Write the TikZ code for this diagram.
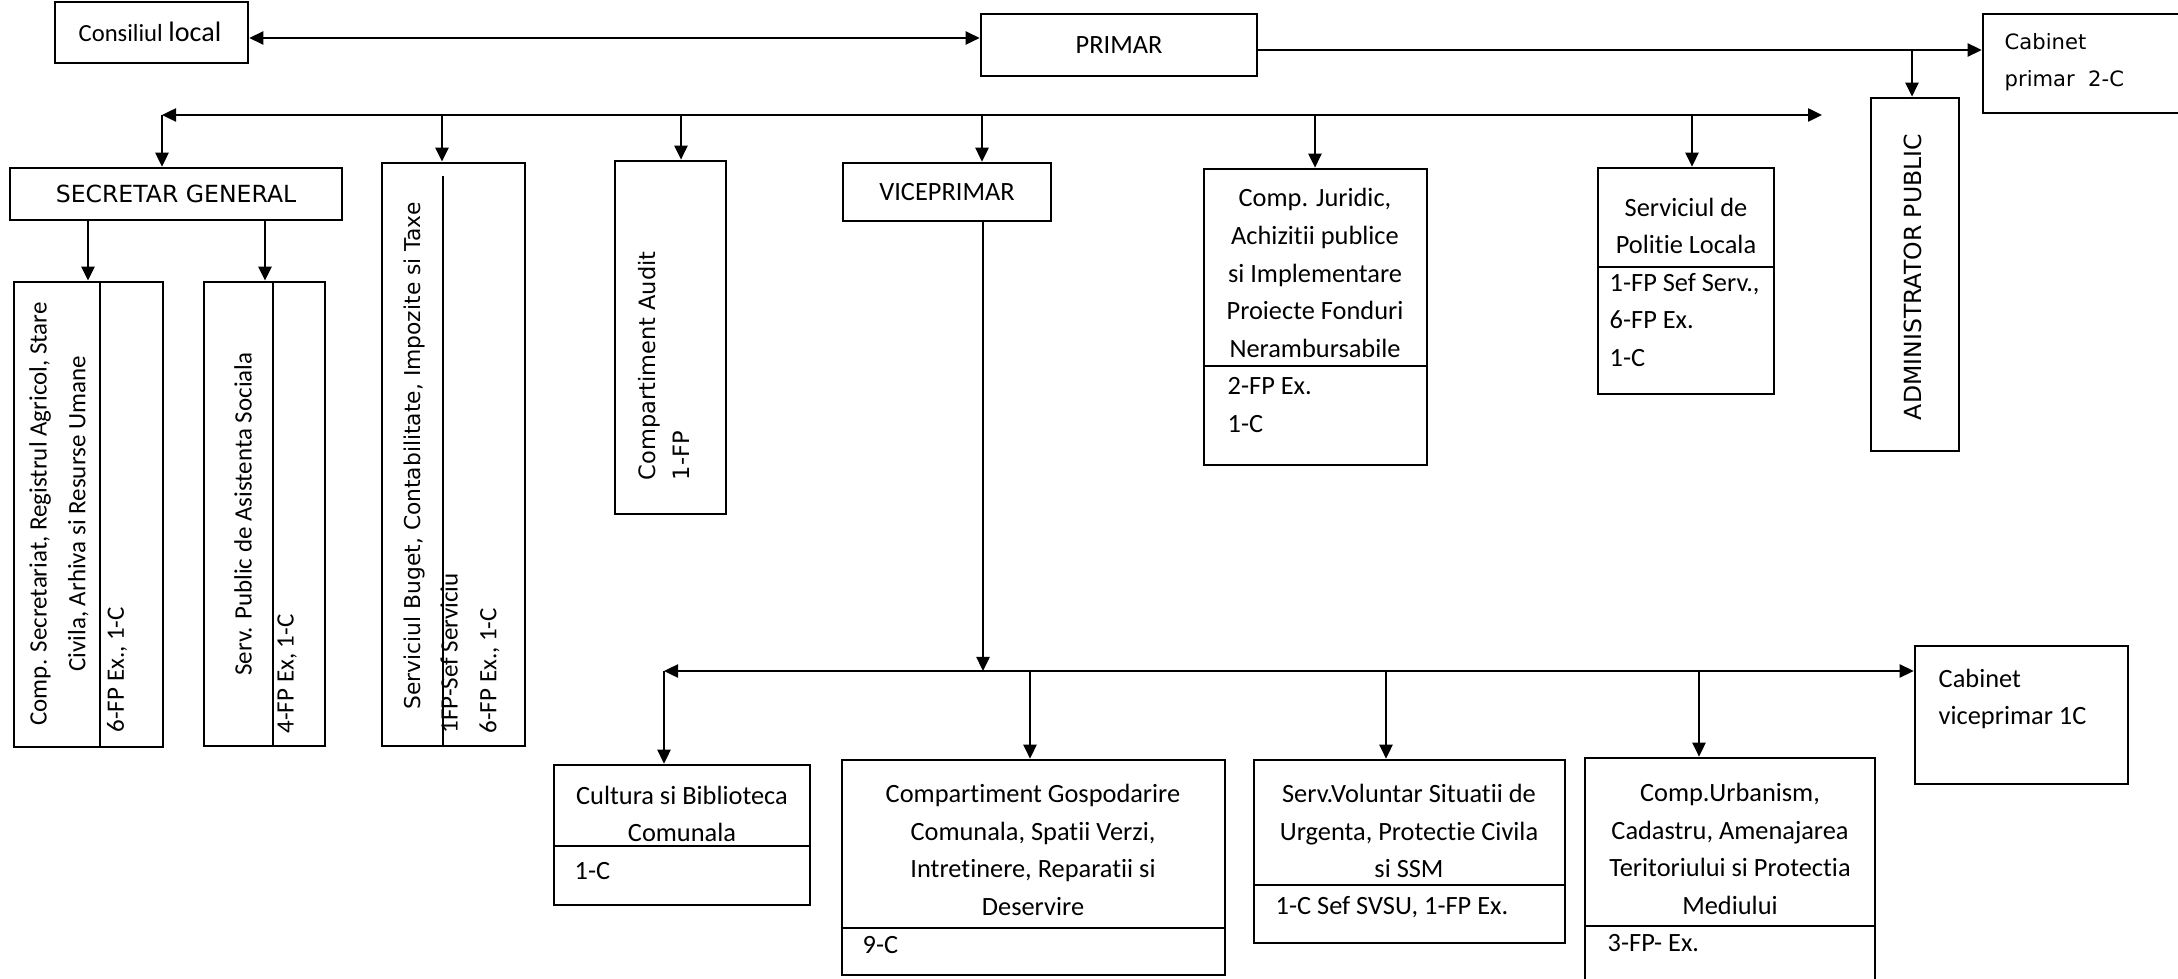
\documentclass[tikz,border=0pt]{standalone}
\usepackage{fontspec}
\usepackage{tikz}
\usetikzlibrary{arrows.meta}
\setmainfont{Carlito}[Ligatures=NoCommon]
\newfontfamily\verd{DejaVu Sans}

\tikzset{
    box/.style={draw, line width=0.7pt, inner sep=0pt},
    arr/.style={-{Triangle[length=0.14cm,width=0.13cm]}, line width=0.7pt},
    dbl/.style={{Triangle[length=0.14cm,width=0.13cm]}-{Triangle[length=0.14cm,width=0.13cm]}, line width=0.7pt},
    cal/.style={inner sep=0pt, font=\fontsize{7.5}{10.7}\selectfont},
    calr/.style={inner sep=0pt, font=\fontsize{7.1}{11}\selectfont},
    ver/.style={inner sep=0pt, font=\verd\fontsize{6.7}{9.8}\selectfont},
    vers/.style={inner sep=0pt, font=\verd\fontsize{6.2}{9.5}\selectfont},
}

\begin{document}
\begin{tikzpicture}[x=0.01cm, y=-0.01cm]
    \useasboundingbox (0,0) rectangle (2178,979);
    \clip (0,0) rectangle (2178,979);

    % top row
    \node[box, minimum width=1.93cm, minimum height=0.61cm] (consiliul) at (151.5,32.5) {};
    \node[inner sep=0pt] (consiliultxt) at (150,32) {\fontsize{7}{9}\selectfont Consiliul \fontsize{8}{9}\selectfont local};
    \node[box, cal, minimum width=2.76cm, minimum height=0.62cm] (primar) at (1119,45) {PRIMAR};
    \node[box, minimum width=2.07cm, minimum height=0.99cm] (cabp) at (2086.5,63.5) {};
    \node[ver, font=\verd\fontsize{6}{10.5}\selectfont, align=left, anchor=north west] (cabptxt) at (2004,33) {Cabinet\\primar\ \ 2-C};
    \node[box, minimum width=0.88cm, minimum height=3.53cm] (admin) at (1915,274.5) {};
    \node[ver, rotate=90] (admintxt) at (1913,277) {ADMINISTRATOR PUBLIC};

    \draw[dbl] (consiliul.east |- 0,38) -- (primar.west |- 0,38);
    \draw[arr] (primar.east |- 0,50) -- (cabp.west |- 0,50);
    \coordinate (ad) at (1912,50);
    \draw[arr] (ad) -- (ad |- admin.north);

    % second row
    \node[box, ver, minimum width=3.32cm, minimum height=0.52cm] (secgen) at (176,194) {SECRETAR GENERAL};
    \node[box, minimum width=1.43cm, minimum height=5.83cm] (buget) at (453.5,454.5) {};
    \draw[line width=0.7pt] (443,176) -- (buget.south -| 443,0);
    \node[vers, rotate=90] (bugettxt) at (414,456) {Serviciul Buget, Contabilitate, Impozite si Taxe};
    \node[calr, rotate=90, align=left, anchor=west] (bugetnr) at (470,734) {1FP-Sef Serviciu\\6-FP Ex., 1-C};
    \node[box, minimum width=1.11cm, minimum height=3.53cm] (audit) at (670.5,337.5) {};
    \node[ver, font=\verd\fontsize{6.4}{9.9}\selectfont, rotate=90, align=left, anchor=west] (audittxt) at (664,481) {Compartiment Audit\\1-FP};
    \node[box, cal, minimum width=2.08cm, minimum height=0.58cm] (vice) at (947,192) {VICEPRIMAR};
    \node[box, minimum width=2.23cm, minimum height=2.96cm] (juridic) at (1315.5,317) {};
    \draw[line width=0.7pt] (juridic.west |- 0,366) -- (juridic.east |- 0,366);
    \node[cal, align=center] (juridictxt) at (1315,273) {Comp. Juridic,\\Achizitii publice\\si Implementare\\Proiecte Fonduri\\Nerambursabile};
    \node[cal, align=left, anchor=west] (juridicnr) at (1227,405) {2-FP Ex.\\1-C};
    \node[box, minimum width=1.76cm, minimum height=2.26cm] (politie) at (1686,281) {};
    \draw[line width=0.7pt] (politie.west |- 0,267) -- (politie.east |- 0,267);
    \node[cal, align=center] (politietxt) at (1686,226) {Serviciul de\\Politie Locala};
    \node[cal, align=left, anchor=west] (politienr) at (1609,320) {1-FP Sef Serv.,\\6-FP Ex.\\1-C};

    \coordinate (bl) at (162,115);
    \coordinate (br) at (1822,115);
    \draw[dbl] (bl) -- (br);
    \draw[arr] (bl) -- (bl |- secgen.north);
    \coordinate (d1) at (442,115);
    \coordinate (d2) at (681,115);
    \coordinate (d3) at (982,115);
    \coordinate (d4) at (1315,115);
    \coordinate (d5) at (1692,115);
    \draw[arr] (d1) -- (d1 |- buget.north);
    \draw[arr] (d2) -- (d2 |- audit.north);
    \draw[arr] (d3) -- (d3 |- vice.north);
    \draw[arr] (d4) -- (d4 |- juridic.north);
    \draw[arr] (d5) -- (d5 |- politie.north);

    % under secretar general
    \node[box, minimum width=1.49cm, minimum height=4.65cm] (secr) at (88.5,514.5) {};
    \draw[line width=0.7pt] (secr.north -| 100,0) -- (secr.south -| 100,0);
    \node[calr, rotate=90, align=center] (secrtxt) at (59,514) {Comp. Secretariat, Registrul Agricol, Stare\\Civila, Arhiva si Resurse Umane};
    \node[calr, rotate=90, anchor=west] (secrnr) at (117,733) {6-FP Ex., 1-C};
    \node[box, minimum width=1.21cm, minimum height=4.64cm] (asist) at (264.5,514) {};
    \draw[line width=0.7pt] (asist.north -| 273,0) -- (asist.south -| 273,0);
    \node[calr, rotate=90] (asisttxt) at (243,514) {Serv. Public de Asistenta Sociala};
    \node[calr, rotate=90, anchor=west] (asistnr) at (287,734) {4-FP Ex, 1-C};
    \coordinate (s1) at (88,220);
    \coordinate (s2) at (265,220);
    \draw[arr] (s1) -- (s1 |- secr.north);
    \draw[arr] (s2) -- (s2 |- asist.north);

    % under viceprimar
    \node[box, minimum width=2.56cm, minimum height=1.40cm] (cultura) at (682,835) {};
    \draw[line width=0.7pt] (cultura.west |- 0,846) -- (cultura.east |- 0,846);
    \node[cal, align=center] (culturatxt) at (682,814) {Cultura si Biblioteca\\Comunala};
    \node[cal, anchor=west] (culturanr) at (574,871) {1-C};
    \node[box, minimum width=3.83cm, minimum height=2.15cm] (gosp) at (1033.5,867.5) {};
    \draw[line width=0.7pt] (gosp.west |- 0,928) -- (gosp.east |- 0,928);
    \node[cal, align=center] (gosptxt) at (1033,850) {Compartiment Gospodarire\\Comunala, Spatii Verzi,\\Intretinere, Reparatii si\\Deservire};
    \node[cal, anchor=west] (gospnr) at (862,945) {9-C};
    \node[box, minimum width=3.11cm, minimum height=1.83cm] (volunt) at (1409.5,851.5) {};
    \draw[line width=0.7pt] (volunt.west |- 0,885) -- (volunt.east |- 0,885);
    \node[cal, align=center] (volunttxt) at (1409,831) {Serv.Voluntar Situatii de\\Urgenta, Protectie Civila\\si SSM};
    \node[cal, anchor=west] (voluntnr) at (1275,907) {1-C Sef SVSU, 1-FP Ex.};
    \node[box, minimum width=2.90cm, minimum height=2.37cm] (urban) at (1730,876.5) {};
    \draw[line width=0.7pt] (urban.west |- 0,926) -- (urban.east |- 0,926);
    \node[cal, align=center] (urbantxt) at (1730,849) {Comp.Urbanism,\\Cadastru, Amenajarea\\Teritoriului si Protectia\\Mediului};
    \node[cal, anchor=west] (urbannr) at (1607,943) {3-FP- Ex.};
    \node[box, minimum width=2.13cm, minimum height=1.38cm] (cabv) at (2021.5,715) {};
    \node[cal, align=left, anchor=north west] (cabvtxt) at (1938,668) {Cabinet\\viceprimar 1C};

    \coordinate (vb) at (983,671);
    \draw[arr] (vice.south -| vb) -- (vb);
    \coordinate (bl2) at (664,671);
    \draw[dbl] (bl2) -- (cabv.west |- bl2);
    \coordinate (d6) at (1030,671);
    \coordinate (d7) at (1386,671);
    \coordinate (d8) at (1699,671);
    \draw[arr] (bl2) -- (bl2 |- cultura.north);
    \draw[arr] (d6) -- (d6 |- gosp.north);
    \draw[arr] (d7) -- (d7 |- volunt.north);
    \draw[arr] (d8) -- (d8 |- urban.north);
\end{tikzpicture}
\end{document}
